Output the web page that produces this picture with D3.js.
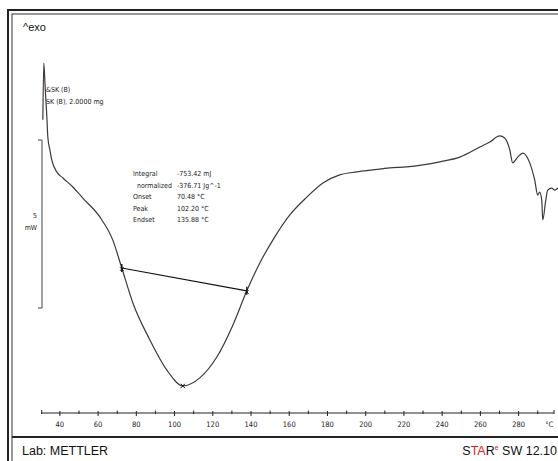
<!DOCTYPE html>
<html>
<head>
<meta charset="utf-8">
<script src="https://cdn.jsdelivr.net/npm/d3@7"></script>
<style>
  body { margin: 0; background: #fff; }
  svg { display: block; }
</style>
</head>
<body>
<script>
// DSC curve, temperature in degC and heat flow in mW (exo up)
var temps = [31.1, 31.6, 32.2, 32.7, 33.2, 33.7, 34.8, 35.8, 38.4, 41.6, 46.8, 52.0, 60.9, 67.7,
  72.4, 78.2, 87.1, 96.0, 104.3, 113.2, 122.1, 130.5, 137.8, 144.6, 151.4, 160.3, 169.2, 177.6,
  186.4, 195.3, 203.7, 212.6, 221.5, 229.9, 238.7, 249.2, 259.7, 264.9, 270.1, 272.7, 275.4,
  276.9, 279.5, 282.2, 285.8, 288.4, 290.0, 291.0, 292.1, 292.6, 294.2, 295.2, 297.3, 298.9, 300.5];
var heatFlow = [5.60, 7.29, 6.70, 6.19, 5.68, 5.09, 4.70, 4.40, 4.05, 3.87, 3.60, 3.27, 2.71, 2.02,
  1.19, 0.15, -0.95, -1.85, -2.32, -2.08, -1.46, -0.51, 0.51, 1.34, 2.02, 2.77, 3.30, 3.72,
  3.96, 4.05, 4.11, 4.17, 4.20, 4.26, 4.35, 4.49, 4.79, 4.94, 5.12, 5.06, 4.70,
  4.32, 4.49, 4.61, 4.32, 3.81, 3.36, 3.45, 3.21, 2.62, 3.21, 3.51, 3.57, 3.51, 3.57];

// integration limits and peak marker
var limitTemps = [72.4, 137.8];
var limitFlow = [1.19, 0.51];
var peakTemp = [104.3];
var peakFlow = [-2.32];

var majorTicks = [40, 60, 80, 100, 120, 140, 160, 180, 200, 220, 240, 260, 280];
var minorTicks = [50, 70, 90, 110, 130, 150, 170, 190, 210, 230, 250, 270, 290];
var scaleBar = [0, 5];

var evalNames = ['Integral', 'normalized', 'Onset', 'Peak', 'Endset'];
var evalIndent = [0, 4, 0, 0, 0];
var evalValues = ['-753.42 mJ', '-376.71 Jg^-1', '70.48 °C', '102.20 °C', '135.88 °C'];
var sampleLines = ['&SK (B)', 'SK (B), 2.0000 mg'];

var width = 558;
var height = 461;
var svg = d3.select('body').append('svg').attr('width', width).attr('height', height);

var x = d3.scaleLinear().domain([30.5, 298.5]).range([41.7, 554]);
var y = d3.scaleLinear().domain([0, 5]).range([308, 140]);
var AXY = 413;
var smallFont = '"DejaVu Sans Condensed", "DejaVu Sans", Verdana, sans-serif';

// frame
svg.append('rect').attr('x', 8).attr('y', 10).attr('width', 600).attr('height', 500)
  .attr('fill', 'none').attr('stroke', '#222').attr('stroke-width', 2);
svg.append('rect').attr('x', 12).attr('y', 14).attr('width', 600).attr('height', 500)
  .attr('fill', 'none').attr('stroke', '#333').attr('stroke-width', 1);
svg.append('line').attr('x1', 12).attr('x2', width).attr('y1', 437).attr('y2', 437)
  .attr('stroke', '#222').attr('stroke-width', 2);

svg.append('text').attr('x', 23).attr('y', 31).style('font-family', 'Arial, "Liberation Sans", sans-serif')
  .style('font-size', '11px').attr('fill', '#111').text('^exo');

// footer
var foot = 'Arial, "Liberation Sans", sans-serif';
svg.append('text').attr('x', 22).attr('y', 455).style('font-family', foot).style('font-size', '12.5px')
  .attr('fill', '#111').text('Lab: METTLER');
var star = svg.append('text').attr('x', 557).attr('y', 455).attr('text-anchor', 'end')
  .style('font-family', foot).style('font-size', '12.5px').attr('fill', '#111');
star.append('tspan').text('S');
star.append('tspan').attr('fill', '#d22').text('TA');
star.append('tspan').text('R');
star.append('tspan').attr('fill', '#d22').attr('dy', -5).style('font-size', '7px').text('e');
star.append('tspan').attr('dy', 5).text(' SW 12.10');

// temperature axis
svg.append('line').attr('x1', x.range()[0]).attr('x2', x.range()[1]).attr('y1', AXY).attr('y2', AXY)
  .attr('stroke', '#222').attr('stroke-width', 1);
svg.selectAll('.major').data(majorTicks).enter().append('line')
  .attr('x1', function(d) { return x(d); }).attr('x2', function(d) { return x(d); })
  .attr('y1', AXY - 2).attr('y2', AXY + 3).attr('stroke', '#222');
svg.selectAll('.minor').data(minorTicks).enter().append('line')
  .attr('x1', function(d) { return x(d); }).attr('x2', function(d) { return x(d); })
  .attr('y1', AXY - 2.5).attr('y2', AXY + 1).attr('stroke', '#222');
svg.selectAll('.endtick').data(x.domain()).enter().append('line')
  .attr('x1', function(d) { return x(d); }).attr('x2', function(d) { return x(d); })
  .attr('y1', AXY - 3).attr('y2', AXY + 1).attr('stroke', '#222');
svg.selectAll('.ticklabel').data(majorTicks).enter().append('text')
  .attr('x', function(d) { return x(d); }).attr('y', AXY + 14).attr('text-anchor', 'middle')
  .style('font-family', smallFont).style('font-size', '7.5px')
  .attr('fill', '#222').text(function(d) { return d; });
svg.append('text').attr('x', x(296)).attr('y', AXY + 14).attr('text-anchor', 'middle')
  .style('font-family', smallFont).style('font-size', '7.5px').attr('fill', '#222').text('°C');

// 5 mW scale bar
svg.append('path')
  .attr('d', 'M38,' + y(scaleBar[1]) + 'H42V' + y(scaleBar[0]) + 'H38')
  .attr('fill', 'none').attr('stroke', '#444').attr('stroke-width', 1);
svg.append('text').attr('x', 37).attr('y', 218).attr('text-anchor', 'end')
  .style('font-family', smallFont).style('font-size', '7px').attr('fill', '#222').text(scaleBar[1]);
svg.append('text').attr('x', 37).attr('y', 230).attr('text-anchor', 'end')
  .style('font-family', smallFont).style('font-size', '7px').attr('fill', '#222').text('mW');

// sample name
svg.selectAll('.sample').data(sampleLines).enter().append('text')
  .attr('x', 46).attr('y', function(d, i) { return 92 + i * 12; })
  .style('font-family', smallFont).style('font-size', '7px').attr('fill', '#222')
  .text(function(d) { return d; });

// evaluation table
svg.selectAll('.evname').data(evalNames).enter().append('text')
  .attr('x', function(d, i) { return 133 + evalIndent[i]; })
  .attr('y', function(d, i) { return 176 + i * 11.6; })
  .style('font-family', smallFont).style('font-size', '7px')
  .attr('fill', '#222').text(function(d) { return d; });
svg.selectAll('.evval').data(evalValues).enter().append('text')
  .attr('x', 177).attr('y', function(d, i) { return 176 + i * 11.6; })
  .style('font-family', smallFont).style('font-size', '7px').attr('fill', '#222')
  .text(function(d) { return d; });

// curve
var line = d3.line()
  .x(function(d, i) { return x(temps[i]); })
  .y(function(d, i) { return y(heatFlow[i]); })
  .curve(d3.curveMonotoneX);
svg.append('path').attr('d', line(temps)).attr('fill', 'none')
  .attr('stroke', '#3a3a3a').attr('stroke-width', 1.2);

// integration baseline and markers
svg.append('line')
  .attr('x1', x(limitTemps[0])).attr('y1', y(limitFlow[0]))
  .attr('x2', x(limitTemps[1])).attr('y2', y(limitFlow[1]))
  .attr('stroke', '#111').attr('stroke-width', 1.2);
limitTemps.forEach(function(t, i) {
  svg.append('line').attr('x1', x(t)).attr('x2', x(t))
    .attr('y1', y(limitFlow[i]) - 4).attr('y2', y(limitFlow[i]) + 4)
    .attr('stroke', '#111').attr('stroke-width', 1.4);
  svg.append('path').attr('d', d3.symbol(d3.symbolTimes, 10)())
    .attr('transform', 'translate(' + x(t) + ',' + (y(limitFlow[i]) + 1) + ')')
    .attr('fill', 'none').attr('stroke', '#111').attr('stroke-width', 1);
});
peakTemp.forEach(function(t, i) {
  svg.append('path').attr('d', d3.symbol(d3.symbolTimes, 14)())
    .attr('transform', 'translate(' + x(t) + ',' + y(peakFlow[i]) + ')')
    .attr('fill', 'none').attr('stroke', '#111').attr('stroke-width', 1);
});
</script>
</body>
</html>
